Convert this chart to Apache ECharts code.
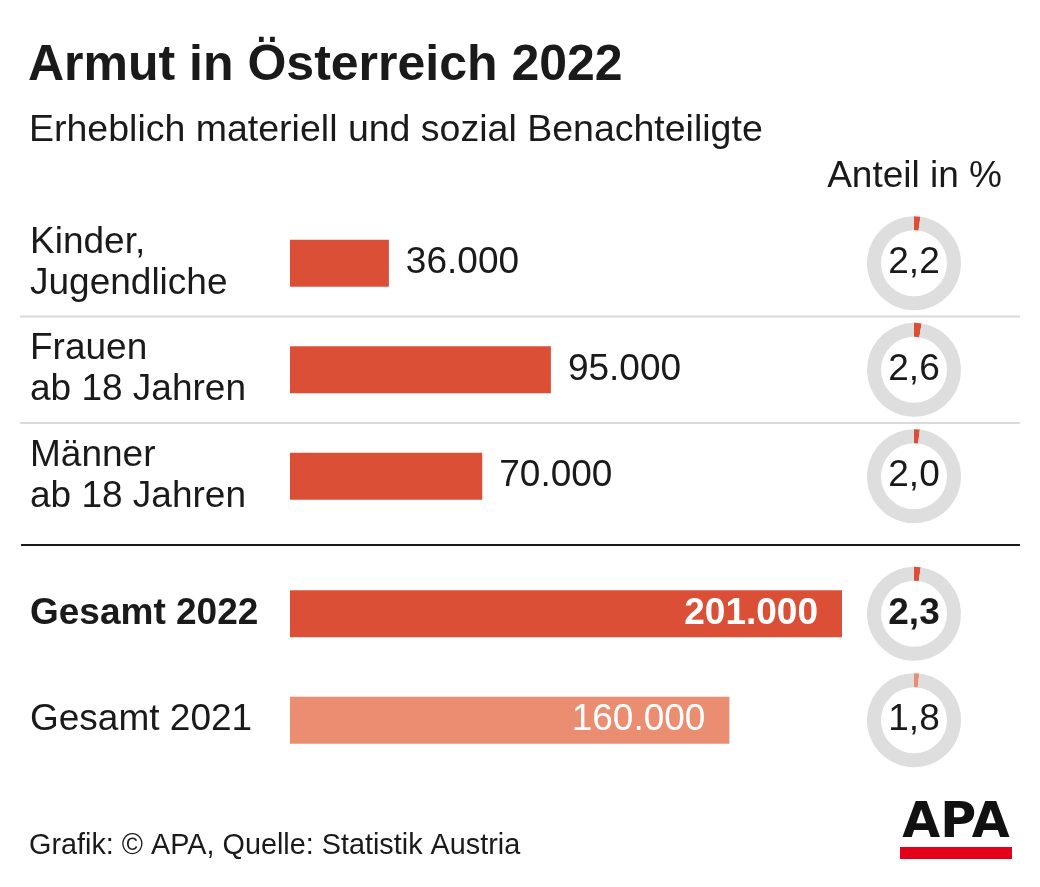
<!DOCTYPE html>
<html>
<head>
<meta charset="utf-8">
<script src="https://cdn.jsdelivr.net/npm/echarts@6/dist/echarts.min.js"></script>
<style>
html,body{margin:0;padding:0;background:#fff;}
#chart{width:1040px;height:887px;}
</style>
</head>
<body>
<div id="chart"></div>
<script>
// ---- data ----
const groupCategories = ['Kinder,\nJugendliche', 'Frauen\nab 18 Jahren', 'Männer\nab 18 Jahren'];
const groupValues = [36000, 95000, 70000];
const groupShares = [2.2, 2.6, 2.0];
const totalCategories = ['Gesamt 2022', 'Gesamt 2021'];
const totalValues = [201000, 160000];
const totalShares = [2.3, 1.8];

const FONT = '"Liberation Sans", Arial, Helvetica, sans-serif';
const RED = '#dc4f37';
const LIGHT = '#ea8d70';
const RING = '#dedede';
const TEXT = '#1a1a1a';

function fmtNum(n) { return String(n).replace(/\B(?=(\d{3})+(?!\d))/g, '.'); }
function fmtShare(v) { return v.toFixed(1).replace('.', ','); }

const chart = echarts.init(document.getElementById('chart'), null, {renderer: 'canvas'});

const axisMax = Math.max(...totalValues);

const option = {
  backgroundColor: '#fff',
  animation: false,
  textStyle: {fontFamily: FONT},
  grid: [
    {left: 290, width: 552, top: 210, height: 319.5},
    {left: 290, width: 552, top: 560.5, height: 213}
  ],
  xAxis: [
    {gridIndex: 0, type: 'value', min: 0, max: axisMax, show: false},
    {gridIndex: 1, type: 'value', min: 0, max: axisMax, show: false}
  ],
  yAxis: [
    {
      gridIndex: 0, type: 'category', data: groupCategories, inverse: true,
      axisLine: {show: false}, axisTick: {show: false}, splitLine: {show: false},
      axisLabel: {align: 'left', margin: 260, fontSize: 37, lineHeight: 41, color: TEXT, fontFamily: FONT}
    },
    {
      gridIndex: 1, type: 'category', data: totalCategories, inverse: true,
      axisLine: {show: false}, axisTick: {show: false}, splitLine: {show: false},
      axisLabel: {
        align: 'left', margin: 260, color: TEXT, fontFamily: FONT,
        formatter: function (v, i) { return i === 0 ? '{b|' + v + '}' : '{n|' + v + '}'; },
        rich: {
          b: {fontSize: 37, fontWeight: 'bold', color: TEXT, fontFamily: FONT},
          n: {fontSize: 37, color: TEXT, fontFamily: FONT}
        }
      }
    }
  ],
  series: [
    {
      type: 'bar', xAxisIndex: 0, yAxisIndex: 0, barWidth: 47, silent: true,
      itemStyle: {color: RED},
      label: {
        show: true, position: 'right', distance: 17, fontSize: 37, color: TEXT, fontFamily: FONT,
        formatter: function (p) { return fmtNum(p.value); }
      },
      data: groupValues
    },
    {
      type: 'bar', xAxisIndex: 1, yAxisIndex: 1, barWidth: 47, silent: true,
      label: {
        show: true, position: 'insideRight', distance: 24, fontSize: 37, color: '#fff', fontFamily: FONT,
        formatter: function (p) { return fmtNum(p.value); }
      },
      data: totalValues.map(function (v, i) {
        return {
          value: v,
          itemStyle: {color: i === 0 ? RED : LIGHT},
          label: {fontWeight: i === 0 ? 'bold' : 'normal', fontSize: 37}
        };
      })
    }
  ],
  graphic: []
};

chart.setOption(option);

// donuts & separators aligned to the category bands
const rows = [];
groupCategories.forEach(function (c, i) {
  rows.push({y: chart.convertToPixel({yAxisIndex: 0}, c), share: groupShares[i], color: RED, bold: false});
});
totalCategories.forEach(function (c, i) {
  rows.push({y: chart.convertToPixel({yAxisIndex: 1}, c), share: totalShares[i], color: i === 0 ? RED : LIGHT, bold: i === 0});
});

const pies = rows.map(function (r) {
  return {
    type: 'pie', center: [914, r.y], radius: [33, 47], startAngle: 90, clockwise: true,
    silent: true, avoidLabelOverlap: false, labelLine: {show: false},
    emphasis: {disabled: true},
    data: [
      {value: r.share, itemStyle: {color: r.color},
        label: {show: true, position: 'center', formatter: fmtShare(r.share), fontSize: 37,
          fontWeight: r.bold ? 'bold' : 'normal', color: TEXT, fontFamily: FONT}},
      {value: 100 - r.share, itemStyle: {color: RING}, label: {show: false}}
    ]
  };
});

const mid = function (a, b) { return (a + b) / 2; };
const sepY = [mid(rows[0].y, rows[1].y), mid(rows[1].y, rows[2].y)];
const blackY = mid(rows[2].y, rows[3].y);

const graphics = [
  {type: 'text', left: 28, top: 41, style: {text: 'Armut in Österreich 2022', font: 'bold 50px ' + FONT, fill: TEXT}},
  {type: 'text', left: 29, top: 112, style: {text: 'Erheblich materiell und sozial Benachteiligte', font: '37.5px ' + FONT, fill: TEXT}},
  {type: 'text', right: 38, top: 158, style: {text: 'Anteil in %', font: '37px ' + FONT, fill: TEXT}},
  {type: 'text', left: 29, top: 832, style: {text: 'Grafik: © APA, Quelle: Statistik Austria', font: '28.8px ' + FONT, fill: TEXT}},
  // APA logo
  {type: 'rect', shape: {x: 900, y: 847, width: 112, height: 12}, style: {fill: '#e3001b'}},
  {type: 'text', x: 956, y: 849, style: {text: 'APA', font: '900 49px "DejaVu Sans", ' + FONT, fill: '#111', align: 'center', verticalAlign: 'bottom'}}
];
sepY.forEach(function (y) {
  graphics.push({type: 'line', shape: {x1: 20, y1: y, x2: 1020, y2: y}, style: {stroke: '#dadada', lineWidth: 2}});
});
graphics.push({type: 'line', shape: {x1: 21, y1: blackY, x2: 1020, y2: blackY}, style: {stroke: '#1a1a1a', lineWidth: 2}});

chart.setOption({series: option.series.concat(pies), graphic: graphics});
</script>
</body>
</html>
